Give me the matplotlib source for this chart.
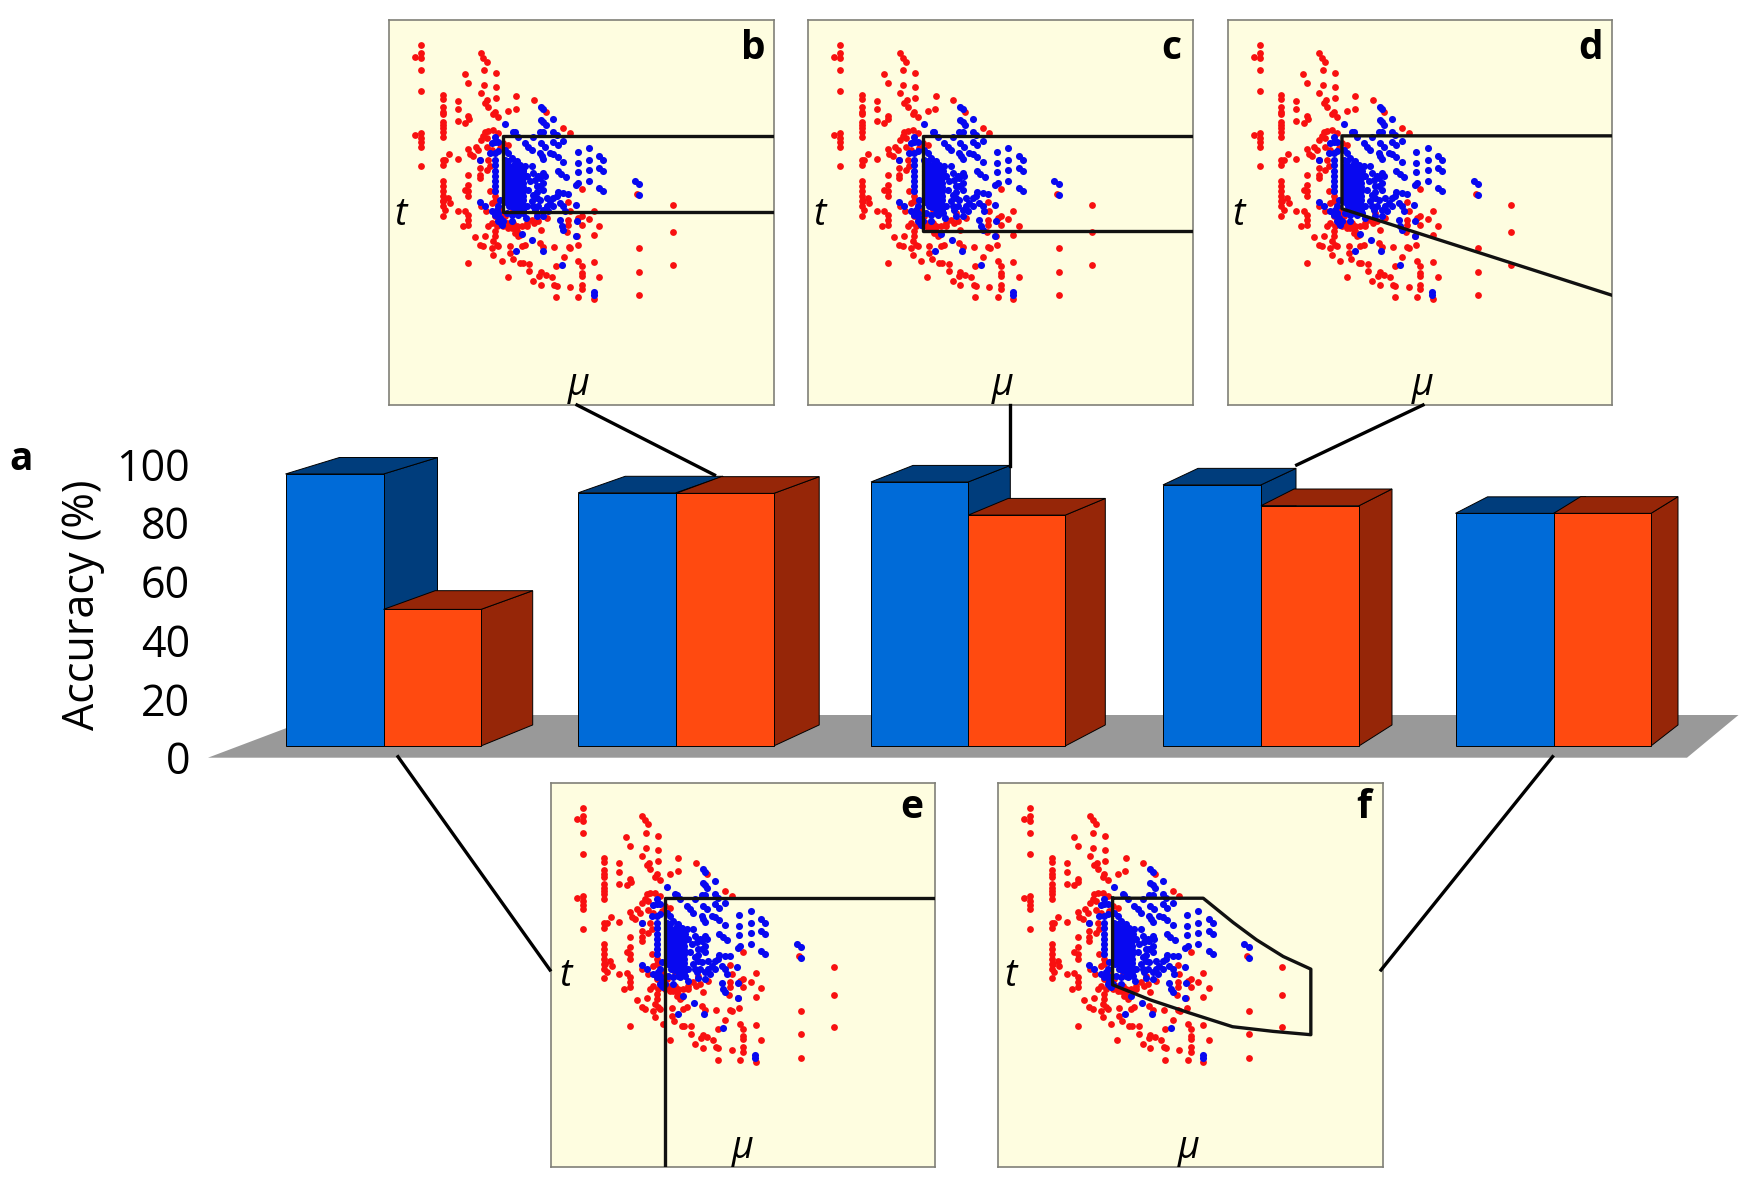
import matplotlib
matplotlib.use('Agg')
import matplotlib.pyplot as plt
from matplotlib.patches import Polygon
from matplotlib.lines import Line2D
from matplotlib.transforms import Affine2D

plt.rcParams['font.family'] = ['Open Sans', 'DejaVu Sans']

# Bar heights, accuracy in %
blue_acc = [96.6, 90.2, 93.9, 92.9, 83.2]
orange_acc = [50.5, 90.0, 82.6, 85.8, 83.2]
y_ticks = [0, 20, 40, 60, 80, 100]

# Scatter, all panels show the same points (mu, t)
red_mu = [123, 123, 123, 123, 123, 123, 123, 123, 123, 123, 105, 105,
          188, 188, 188, 188, 188, 188, 188, 188, 188, 188, 188, 188, 195, 188, 188, 188, 188, 188, 188,
          207, 233, 233, 233, 233, 255, 265, 267, 254, 265,
          302, 310, 320, 312, 348, 312, 348, 302, 348, 322, 315, 325, 409, 385, 408, 462, 497, 345, 355, 340,
          315, 325, 340, 310, 355, 302, 320, 287, 295, 265, 270, 280, 320, 335, 300, 325, 330, 300, 320, 300,
          265, 300, 265, 255, 265, 265, 190, 205, 210, 195, 188, 233, 255, 265, 265, 248, 265, 302, 318, 335,
          345, 355, 345, 360,
          325, 345, 345, 315, 285, 300, 310, 340, 350, 335, 355, 390, 390, 340, 265, 365, 398, 420, 428, 384,
          448, 448, 460, 483, 478, 483, 497, 515, 523, 530, 528, 570, 595, 605, 605, 605, 605, 605, 595, 642,
          658, 642, 551, 528, 523, 566, 571, 593, 480, 490, 435, 425, 483, 463, 475, 410, 425, 395, 385, 370,
          415, 405,
          565, 570, 565, 565, 605, 595, 605, 627, 642, 658, 642, 605, 772, 878, 878, 878, 778, 778, 778, 550,
          570, 562, 590,
          395, 410, 420, 440, 380, 400, 365, 375, 335, 350, 385, 370, 360, 345, 330, 400, 440, 455, 470, 500]
red_t = [105, 130, 145, 180, 243, 370, 385, 397, 410, 470, 140, 376,
         255, 268, 292, 305, 312, 335, 345, 355, 365, 380, 450, 465, 450, 515, 530, 545, 560, 575, 618,
         434, 447, 272, 298, 334, 338, 318, 327, 193, 220,
         130, 143, 155, 180, 190, 225, 232, 250, 265, 270, 278, 290, 257, 303, 296, 271, 305, 305, 322, 312,
         365, 362, 360, 378, 370, 390, 385, 410, 420, 418, 432, 438, 412, 420, 450, 450, 470, 475, 480, 495,
         495, 505, 525, 540, 545, 560, 575, 565, 580, 600, 590, 604, 603, 615, 630, 650, 645, 590, 605, 580,
         620, 630, 560, 600,
         650, 665, 680, 678, 682, 705, 710, 695, 705, 715, 710, 708, 730, 735, 760, 755, 747, 760, 760, 802,
         762, 785, 815, 827, 798, 788, 795, 803, 825, 828, 863, 833, 862, 825, 838, 790, 800, 770, 755, 868,
         802, 757, 743, 770, 712, 712, 715, 706, 700, 712, 705, 710, 660, 640, 635, 650, 650, 655, 655, 650,
         680, 670,
         578, 605, 630, 645, 620, 625, 645, 628, 603, 648, 675, 538, 552, 585, 667, 765, 715, 786, 857, 354,
         370, 668, 678,
         650, 665, 675, 650, 640, 640, 610, 620, 640, 650, 405, 400, 415, 575, 545, 600, 640, 630, 610, 625]
blue_mu = [483, 490, 483, 490, 497, 520, 375, 405, 400, 480, 490, 520, 530, 550, 520, 533, 435, 445, 455, 483,
           495, 415, 460, 480, 485, 490, 510, 520, 533, 550, 593, 627, 658, 670, 627, 593, 593, 627, 658, 670,
           533, 543, 557, 595, 588, 627, 658, 670, 765, 778, 778, 550, 533, 565, 520, 530, 587, 500, 470, 480,
           455, 460, 435, 430, 490, 495, 480, 490, 480, 470, 460, 460, 475, 500, 505, 490, 470, 540, 550, 555,
           540, 545, 550, 590, 588, 425, 457, 408, 488, 545, 641, 641,
           345, 345, 335, 355, 330, 345, 355, 345, 345, 345, 345, 345, 345, 345, 300, 375, 385, 395, 410, 375,
           300, 315, 335, 350, 360, 370, 362, 395, 415, 438,
           378, 388, 398, 408, 418, 428, 378, 388, 398, 408, 418, 428, 378, 388, 398, 408, 418, 428,
           378, 388, 398, 408, 418, 428, 378, 388, 398, 408, 418, 428, 378, 388, 398, 408, 418, 428,
           378, 388, 398, 408, 418, 428, 378, 388, 398, 408, 418, 428, 378, 388, 398, 408, 418, 428,
           388, 398, 408, 418, 428,
           440, 450, 445, 465, 470, 475, 490, 455, 465, 490, 510, 520, 440, 430, 410, 395, 380,
           355, 365, 345, 355, 360, 355, 385, 405, 420]
blue_t = [290, 297, 330, 337, 345, 326, 343, 367, 365, 367, 367, 365, 375, 392, 395, 405, 400, 410, 420, 400,
          410, 380, 380, 430, 440, 448, 430, 433, 443, 457, 426, 416, 440, 450, 452, 461, 487, 480, 475, 485,
          483, 493, 503, 520, 527, 514, 535, 545, 515, 523, 556, 550, 547, 552, 565, 560, 585, 565, 565, 570,
          470, 490, 470, 485, 490, 500, 505, 520, 530, 548, 555, 590, 590, 590, 605, 620, 618, 580, 590, 605,
          632, 650, 660, 633, 678, 672, 692, 725, 724, 767, 848, 857,
          380, 395, 398, 395, 430, 430, 425, 450, 465, 485, 500, 515, 530, 545, 452, 420, 430, 445, 455, 450,
          578, 590, 605, 600, 625, 635, 640, 635, 615, 625,
          470, 470, 472, 475, 478, 480, 483, 483, 485, 488, 490, 492, 496, 496, 498, 500, 503, 505,
          510, 510, 512, 515, 518, 520, 523, 523, 525, 528, 530, 532, 536, 536, 538, 540, 543, 545,
          550, 550, 552, 555, 558, 560, 563, 563, 565, 568, 570, 572, 576, 576, 578, 580, 583, 585,
          590, 592, 595, 598, 600,
          500, 515, 540, 510, 530, 500, 540, 575, 600, 600, 580, 590, 590, 610, 610, 615, 610,
          635, 645, 615, 590, 570, 610, 455, 460, 465]

# Black outlines drawn over each panel, same units as the scatter
line_b = ([1181, 370, 370, 1181], [378, 378, 607, 607])
line_c = ([1181, 370, 370, 1181], [378, 378, 663, 663])
line_d = ([1181, 370, 370, 1181], [378, 378, 597, 857])
line_e = ([1181, 370, 370], [377, 377, 1185])
line_f = ([370, 642, 732, 802, 882, 965, 965, 852, 730, 602, 482, 370, 370],
          [377, 377, 450, 502, 552, 590, 787, 777, 763, 722, 682, 637, 377])

W, H = 1750, 1191
PX_PER_PCT = 2.937
ZERO_PX = 757.7
BAR_LIFT = 4.0

# group geometry in pixels: left, middle, right of the front faces
group_left = [285.5, 578.2, 871, 1163, 1455.5]
group_mid = [383.5, 676, 968.3, 1261, 1553.7]
group_right = [481, 773.8, 1065.3, 1359, 1651]
blue_depth = [54, 47, 42, 35, 32]
orange_depth = [51.7, 45.4, 40, 33, 27]
orange_rise = [18.7, 16.7, 16.7, 16.7, 16.7]

BLUE, BLUE_DARK = '#006bd8', '#003d7c'
ORANGE, ORANGE_DARK = '#ff4a10', '#962608'

fig = plt.figure(figsize=(W / 100, H / 100), dpi=100)
px = Affine2D().scale(1, -1).translate(0, H)

ax = fig.add_axes([0, 0, 1, 1])
ax.set_xlim(0, W)
ax.set_ylim(ZERO_PX / PX_PER_PCT - H / PX_PER_PCT, ZERO_PX / PX_PER_PCT)
ax.patch.set_alpha(0)
for s in ['top', 'right', 'bottom']:
    ax.spines[s].set_visible(False)
ax.spines['left'].set_position(('data', 190))
ax.spines['left'].set_visible(False)
ax.set_xticks([])
ax.set_yticks(y_ticks)
ax.tick_params(axis='y', length=0, pad=0, labelsize=31)

# floor
ax.add_patch(Polygon([(208, 757.7), (1687, 757.7), (1738.5, 715), (321, 715)],
                     closed=True, fc='#999999', ec='none', transform=px, zorder=1))


def draw_box(x0, x1, top, dx, rise, front, dark, z):
    dy_top = rise / PX_PER_PCT
    dy_base = 21 / PX_PER_PCT
    # side then top, front face comes from ax.bar
    ax.add_patch(Polygon([(x1, BAR_LIFT), (x1 + dx, BAR_LIFT + dy_base), (x1 + dx, top + dy_top), (x1, top)],
                         closed=True, fc=dark, ec='black', lw=0.7, zorder=z))
    ax.add_patch(Polygon([(x0, top), (x0 + dx, top + dy_top), (x1 + dx, top + dy_top), (x1, top)],
                         closed=True, fc=dark, ec='black', lw=0.7, zorder=z))
    ax.bar(x0, top - BAR_LIFT, width=x1 - x0, bottom=BAR_LIFT, align='edge',
           color=front, edgecolor='black', linewidth=0.7, zorder=z + 0.5)


for i in range(5):
    draw_box(group_left[i], group_mid[i], blue_acc[i], blue_depth[i], 16.5, BLUE, BLUE_DARK, 2)
    draw_box(group_mid[i], group_right[i], orange_acc[i], orange_depth[i], orange_rise[i], ORANGE, ORANGE_DARK, 3)

fig.text(83 / W, 1 - 605 / H, 'Accuracy (%)', rotation=90, fontsize=31, ha='center', va='center')
fig.text(21 / W, 1 - 470 / H, 'a', fontsize=28, fontweight='bold', ha='center', va='baseline')

# connector lines between bars and panels
connectors = [([577, 714.5], [405, 475]), ([1010, 1010], [405, 466]), ([1423, 1296.7], [405, 465]),
              ([398, 550], [756.7, 970]), ([1552.6, 1381], [756.7, 970])]
for cx, cy in connectors:
    fig.add_artist(Line2D(cx, cy, color='black', lw=2.4, transform=px, zorder=5))


def draw_panel(left, top, letter, outline, t_pos, mu_pos, letter_pos):
    size = 384.5
    a = fig.add_axes([left / W, 1 - (top + size) / H, size / W, size / H])
    a.set_facecolor('#fefde0')
    a.set_xlim(27, 1181)
    a.set_ylim(1185, 30)
    a.set_xticks([])
    a.set_yticks([])
    for s in a.spines.values():
        s.set_color('#808078')
        s.set_linewidth(1.2)
    a.scatter(red_mu, red_t, s=24, c='#f81010', linewidths=0, zorder=2)
    a.scatter(blue_mu, blue_t, s=26, c='#0808f0', linewidths=0, zorder=3)
    a.plot(outline[0], outline[1], color='#111111', lw=2.4, zorder=4, clip_on=True)
    a.text(t_pos[0], t_pos[1], 't', fontsize=27, style='italic', ha='center', va='center')
    a.text(mu_pos[0], mu_pos[1], '\u03bc', fontsize=27, style='italic', ha='center', va='center')
    a.text(letter_pos[0], letter_pos[1], letter, fontsize=28, fontweight='bold', ha='right', va='baseline')


draw_panel(389, 20, 'b', line_b, (60, 617), (595, 1125), (1158, 148))
draw_panel(808.3, 20, 'c', line_c, (60, 617), (610, 1125), (1145, 148))
draw_panel(1227.7, 20, 'd', line_d, (59, 617), (611, 1125), (1152, 148))
draw_panel(550.7, 782.7, 'e', line_e, (70, 610), (603, 1127), (1145, 137))
draw_panel(998.3, 782.7, 'f', line_f, (65, 612), (599, 1127), (1147, 137))

fig.savefig('out.png', dpi=100)
